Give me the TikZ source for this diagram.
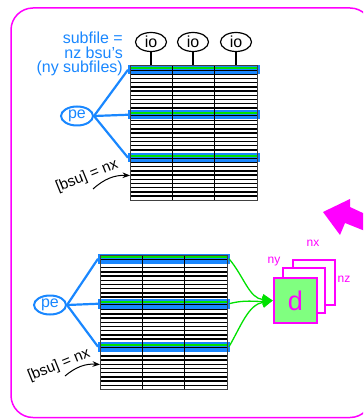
\documentclass[tikz,border=0pt]{standalone}
\usepackage{fontspec}
\setmainfont{Liberation Sans}
\usetikzlibrary{arrows.meta,positioning,shapes.geometric}

\definecolor{fileblue}{RGB}{25,135,255}
\definecolor{bsugreen}{RGB}{0,225,0}
\definecolor{dgreen}{RGB}{128,255,128}
\definecolor{mag}{RGB}{255,0,255}

% one striped file: name, left x, top y
\newcommand{\stripgrid}[3]{%
  \begin{scope}[shift={(#2,#3)}]
    \foreach \r in {0,...,32}
      \draw[line width=1.4pt] (0,-\r*4.2) -- (127,-\r*4.2);
    \foreach \o/\k in {1/1,-44/2,-87/3} {
      \fill[fileblue] (-2.5,\o) rectangle (129.5,\o-9.5);
      \draw[bsugreen,line width=2.2pt] (0,\o-3) -- (127,\o-3);
      \draw[line width=0.8pt] (0,\o-5) -- (127,\o-5);
      \coordinate (#1-l\k) at (-2,\o-4.75);
      \coordinate (#1-r\k) at (129,\o-4.75);
    }
    \foreach \c in {42.33,84.67}
      \draw[line width=1.2pt] (\c,0) -- (\c,-134.4);
    \draw[line width=1pt,black!75] (0,0) rectangle (127,-134.4);
    \coordinate (#1-top) at (0,1);
    \coordinate (#1-bsu) at (0,-109.5);
  \end{scope}}

\begin{document}
\begin{tikzpicture}[x=1pt,y=1pt,>=Stealth,
    txt/.style={font=\fontsize{16}{14.5}\selectfont,inner sep=0pt},
    ionode/.style={txt,draw,ellipse,line width=1.2pt,minimum width=31pt,minimum height=19pt},
    penode/.style={txt,text=fileblue,draw=fileblue,ellipse,line width=2pt,minimum width=32pt,minimum height=19pt},
    feed/.style={fileblue,line width=2.2pt},
    bsutext/.style={font=\fontsize{15}{15}\selectfont,inner sep=0pt,rotate=22},
    flow/.style={bsugreen,line width=1.3pt,-{Triangle[length=10pt,width=11pt]}},
    dbox/.style={draw=mag,line width=2.5pt},
    dim/.style={font=\fontsize{12}{12}\selectfont,text=mag,inner sep=0pt}]

    \useasboundingbox (0,0) rectangle (363,-419);
    \clip (0,0) rectangle (363,-419);

    \draw[mag,line width=1.5pt,rounded corners=22pt] (11,-8) rectangle (372,-417.5);

    % upper picture
    \stripgrid{g1}{130}{-66}

    \node[txt,text=fileblue,align=right,anchor=east] (subfile) at (123,-54)
      {subfile =\\ nz bsu's\\ (ny subfiles)};

    \foreach \x [count=\i] in {151,193,236} {
      \node[ionode] (io\i) at (\x,-42) {io};
      \draw[line width=1.5pt] (io\i) -- (io\i |- g1-top);
    }

    \node[penode] (pe1) at (77,-116) {pe};
    \foreach \k in {1,2,3}
      \draw[feed] (pe1.east) -- (g1-l\k);

    \node[bsutext] (bsu1) at (87,-176) {[bsu] = nx};
    \coordinate (bsu1-tail) at (93,-189);
    \draw[->,line width=1pt] (bsu1-tail) to[bend left=22] (g1-bsu);

    % lower picture
    \stripgrid{g2}{100}{-255}

    \node[penode] (pe2) at (50,-305) {pe};
    \foreach \k in {1,2,3}
      \draw[feed] (pe2.east) -- (g2-l\k);

    \node[bsutext] (bsu2) at (59,-365) {[bsu] = nx};
    \coordinate (bsu2-tail) at (65,-376);
    \draw[->,line width=1pt] (bsu2-tail) to[bend left=22] (g2-bsu);

    % the d array
    \draw[dbox,fill=white] (293,-260) rectangle (335,-305);
    \draw[dbox,fill=white] (283,-268) rectangle (325,-313);
    \node[dbox,fill=dgreen,minimum width=43pt,minimum height=45pt,
      text=mag,font=\fontsize{27}{27}\selectfont] (d) at (295.5,-300.5) {d};

    \node[dim] (nx) at (313,-243) {nx};
    \node[dim] (ny) at (274,-262) {ny};
    \node[dim] (nz) at (344,-279) {nz};

    \draw[flow] (g2-r1) to[out=-50,in=175] (d.west);
    \draw[flow] (g2-r2) to[out=15,in=185] (d.west);
    \draw[flow] (g2-r3) to[out=60,in=190] (d.west);

    % pointer at the right
    \fill[mag] (323,-212) -- (350,-199) -- (350,-207) -- (380,-221)
      -- (380,-237) -- (345,-223) -- (340,-235) -- cycle;
\end{tikzpicture}
\end{document}
